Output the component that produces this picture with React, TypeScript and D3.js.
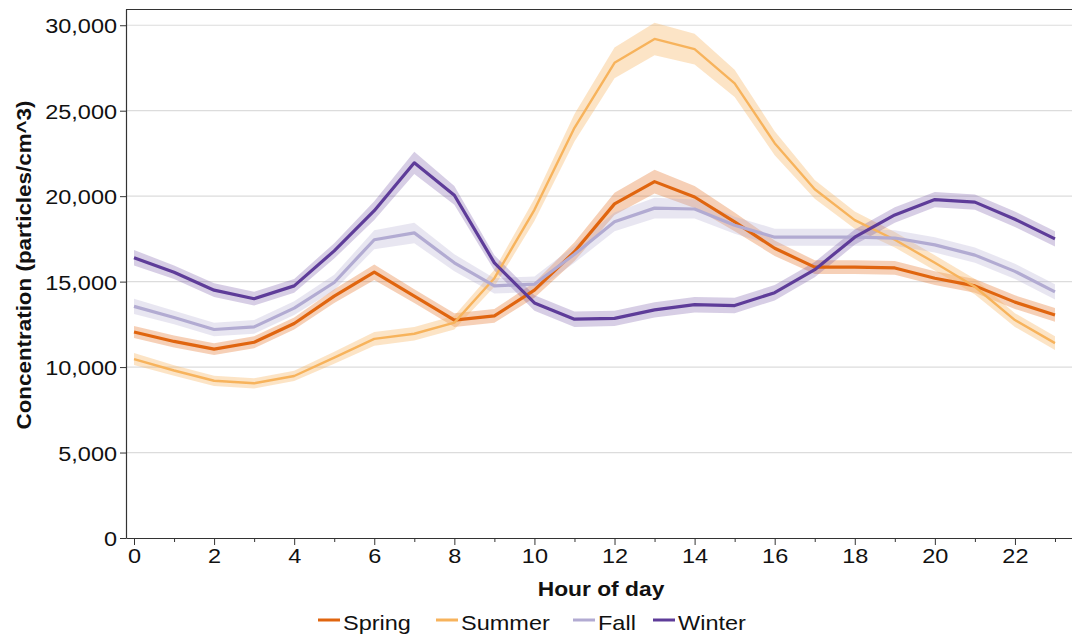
import React, { useEffect, useRef } from 'react';
import * as d3 from 'd3';

// hourly mean concentration (particles/cm^3) per season, with band half-widths
const hours = [0, 1, 2, 3, 4, 5, 6, 7, 8, 9, 10, 11, 12, 13, 14, 15, 16, 17, 18, 19, 20, 21, 22, 23];

const spring = [12050, 11500, 11050, 11450, 12550, 14150, 15550, 14150, 12750, 13000, 14500, 16750, 19550, 20850, 19950, 18500, 16950, 15850, 15850, 15800, 15200, 14750, 13800, 13050];
const summer = [10470, 9800, 9200, 9050, 9480, 10550, 11650, 11950, 12600, 15200, 19200, 24000, 27800, 29200, 28600, 26600, 23100, 20400, 18600, 17450, 16100, 14700, 12750, 11400];
const fall = [13550, 12900, 12200, 12350, 13450, 14950, 17450, 17850, 16100, 14750, 14850, 16600, 18500, 19300, 19250, 18300, 17600, 17600, 17600, 17550, 17150, 16550, 15600, 14400];
const winter = [16400, 15550, 14500, 14000, 14750, 16800, 19150, 21950, 20050, 16100, 13750, 12800, 12850, 13350, 13650, 13600, 14350, 15700, 17600, 18900, 19800, 19650, 18650, 17500];

const springErr = [350, 350, 350, 350, 350, 400, 450, 400, 400, 400, 450, 550, 650, 700, 650, 550, 450, 400, 400, 400, 400, 400, 400, 400];
const summerErr = [350, 300, 300, 300, 300, 350, 400, 400, 400, 500, 650, 800, 900, 950, 900, 800, 700, 550, 500, 450, 450, 450, 400, 400];
const fallErr = [450, 400, 400, 400, 400, 450, 550, 600, 500, 450, 450, 500, 550, 600, 550, 500, 500, 500, 500, 450, 450, 450, 450, 450];
const winterErr = [450, 400, 400, 400, 400, 450, 550, 650, 550, 450, 450, 450, 450, 450, 450, 450, 450, 450, 450, 450, 450, 450, 450, 450];

const seasonNames = ['Spring', 'Summer', 'Fall', 'Winter'];
const yTicks = [0, 5000, 10000, 15000, 20000, 25000, 30000];
const xLabelTicks = [0, 2, 4, 6, 8, 10, 12, 14, 16, 18, 20, 22];
const xMinorTicks = [1, 3, 5, 7, 9, 11, 13, 15, 17, 19, 21, 23];

const FONT = '"Liberation Sans", Arial, sans-serif';
const SX = 1.12; // the source text is a bit wider than Arial

export default function App() {
  const svgRef = useRef<SVGSVGElement>(null);

  useEffect(() => {
    if (!svgRef.current) return;
    const svg = d3.select(svgRef.current);
    svg.selectAll('*').remove();

    const left = 126, top = 9, right = 1073, bottom = 538;
    const x = d3.scaleLinear().domain([-0.2, 23.45]).range([left, right]);
    const y = d3.scaleLinear().domain([0, 30950]).range([bottom, top]);

    const series = [
      { name: seasonNames[0], values: spring, err: springErr, color: '#e0650f', op: 0.3, w: 3.2 },
      { name: seasonNames[1], values: summer, err: summerErr, color: '#f7b35c', op: 0.35, w: 2.4 },
      { name: seasonNames[2], values: fall, err: fallErr, color: '#b2abd2', op: 0.3, w: 3.2 },
      { name: seasonNames[3], values: winter, err: winterErr, color: '#5e3c99', op: 0.25, w: 3.2 },
    ];

    // grid
    svg.append('g')
      .selectAll('line')
      .data(yTicks.filter(d => d > 0))
      .enter()
      .append('line')
      .attr('x1', left).attr('x2', 1072)
      .attr('y1', d => y(d)).attr('y2', d => y(d))
      .attr('stroke', '#dcdcdc').attr('stroke-width', 1.2);

    // top frame
    svg.append('line')
      .attr('x1', left).attr('x2', 1072).attr('y1', top + 0.5).attr('y2', top + 0.5)
      .attr('stroke', '#333').attr('stroke-width', 1.2);

    const line = d3.line<number>()
      .x((_, i) => x(hours[i]))
      .y(d => y(d));

    const plot = svg.append('g');
    series.forEach(s => {
      const band = d3.area<number>()
        .x((_, i) => x(hours[i]))
        .y0((d, i) => y(d - s.err[i]))
        .y1((d, i) => y(d + s.err[i]));
      plot.append('path')
        .attr('d', band(s.values)!)
        .attr('fill', s.color)
        .attr('fill-opacity', s.op);
    });
    series.forEach(s => {
      plot.append('path')
        .attr('d', line(s.values)!)
        .attr('fill', 'none')
        .attr('stroke', s.color)
        .attr('stroke-width', s.w)
        .attr('stroke-linejoin', 'round');
    });

    // y axis
    const yAxis = svg.append('g')
      .attr('transform', `translate(${left},0)`)
      .call(d3.axisLeft(y).tickValues(yTicks).tickFormat(d3.format(',')).tickSize(6).tickSizeOuter(0).tickPadding(2));
    yAxis.select('.domain').attr('stroke', '#333').attr('stroke-width', 1.2);
    yAxis.selectAll('.tick line').attr('stroke', '#333');
    yAxis.selectAll('text')
      .attr('font-family', FONT).attr('font-size', 21).attr('fill', '#111')
      .attr('dy', '0.36em')
      .attr('transform', `scale(${SX},1)`);

    // x axis
    const xAxis = svg.append('g')
      .attr('transform', `translate(0,${bottom})`)
      .call(d3.axisBottom(x).tickValues(xLabelTicks).tickFormat(d3.format('d')).tickSize(7).tickSizeOuter(0).tickPadding(3));
    xAxis.select('.domain').attr('stroke', '#333').attr('stroke-width', 1.2);
    xAxis.selectAll('.tick line').attr('stroke', '#333');
    xAxis.selectAll('text')
      .attr('font-family', FONT).attr('font-size', 21).attr('fill', '#111')
      .attr('transform', `scale(${SX},1)`);

    svg.append('g')
      .attr('transform', `translate(0,${bottom})`)
      .call(d3.axisBottom(x).tickValues(xMinorTicks).tickFormat(() => '').tickSize(4).tickSizeOuter(0))
      .call(g => g.select('.domain').remove())
      .selectAll('.tick line').attr('stroke', '#333');

    // titles
    svg.append('text')
      .attr('transform', `translate(601,596) scale(1.14,1)`)
      .attr('text-anchor', 'middle')
      .attr('font-family', FONT).attr('font-size', 20).attr('font-weight', 'bold').attr('fill', '#111')
      .text('Hour of day');

    svg.append('text')
      .attr('transform', `translate(31,265) rotate(-90) scale(1.12,1)`)
      .attr('text-anchor', 'middle')
      .attr('font-family', FONT).attr('font-size', 20).attr('font-weight', 'bold').attr('fill', '#111')
      .text('Concentration (particles/cm^3)');

    // legend
    const legendX = [318, 436, 573, 653];
    const legend = svg.append('g');
    series.forEach((s, i) => {
      const lx = legendX[i];
      legend.append('line')
        .attr('x1', lx).attr('x2', lx + 22).attr('y1', 620).attr('y2', 620)
        .attr('stroke', s.color).attr('stroke-width', 3);
      legend.append('text')
        .attr('transform', `translate(${lx + 25},630) scale(${SX},1)`)
        .attr('font-family', FONT).attr('font-size', 21).attr('fill', '#111')
        .text(s.name);
    });
  }, []);

  return (
    <svg
      ref={svgRef}
      width={1072}
      height={636}
      style={{ position: 'absolute', left: 0, top: 0, background: '#fff' }}
    />
  );
}
